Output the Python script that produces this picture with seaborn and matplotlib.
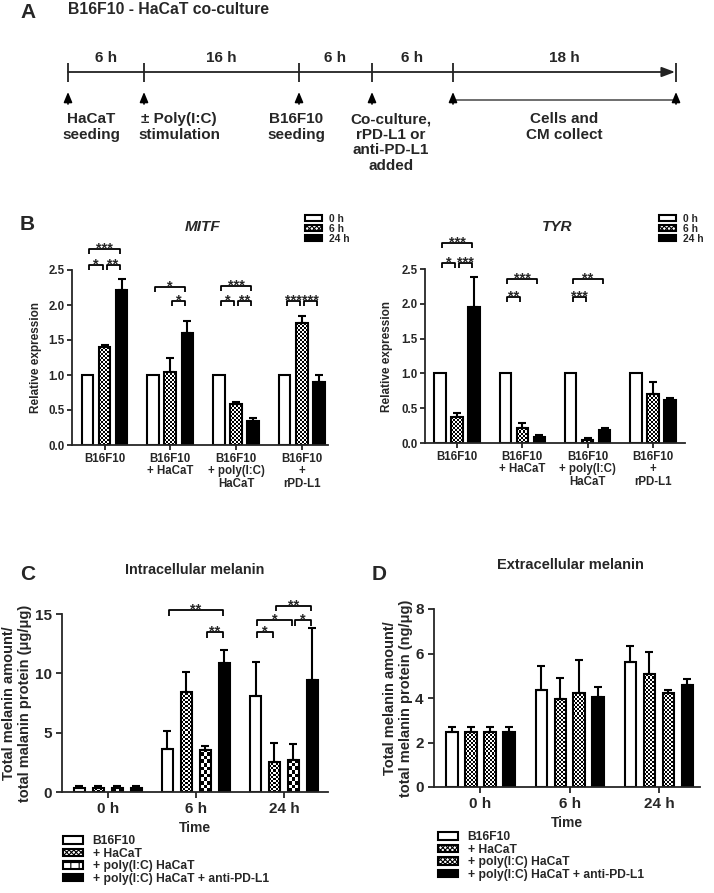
import numpy as np
import pandas as pd
import matplotlib
matplotlib.use("Agg")
import matplotlib.pyplot as plt
import matplotlib.patches as mpatches
import seaborn as sns

# ---- data ----
b_groups = ["B16F10", "B16F10\n+ HaCaT", "B16F10\n+ poly(I:C)\nHaCaT", "B16F10\n+\nrPD-L1"]
b_times = ["0 h", "6 h", "24 h"]

mitf_0h = [1.0, 1.0, 1.0, 1.0]
mitf_6h = [1.40, 1.05, 0.58, 1.75]
mitf_24h = [2.21, 1.60, 0.34, 0.90]
mitf_6h_err = [0.03, 0.20, 0.04, 0.10]
mitf_24h_err = [0.16, 0.165, 0.04, 0.10]

tyr_0h = [1.0, 1.0, 1.0, 1.0]
tyr_6h = [0.37, 0.22, 0.04, 0.70]
tyr_24h = [1.96, 0.09, 0.19, 0.62]
tyr_6h_err = [0.06, 0.07, 0.025, 0.18]
tyr_24h_err = [0.42, 0.02, 0.02, 0.02]

# (group, bar i, bar j, height, label)
mitf_sig = [(0, 0, 2, 2.80, "***"), (0, 0, 1, 2.57, "*"), (0, 1, 2, 2.57, "**"),
            (1, 0, 2, 2.26, "*"), (1, 1, 2, 2.06, "*"),
            (2, 0, 2, 2.27, "***"), (2, 0, 1, 2.06, "*"), (2, 1, 2, 2.06, "**"),
            (3, 0, 1, 2.06, "***"), (3, 1, 2, 2.06, "***")]
tyr_sig = [(0, 0, 2, 2.87, "***"), (0, 0, 1, 2.59, "*"), (0, 1, 2, 2.59, "***"),
           (1, 0, 2, 2.36, "***"), (1, 0, 1, 2.10, "**"),
           (2, 0, 2, 2.36, "**"), (2, 0, 1, 2.10, "***")]

times = ["0 h", "6 h", "24 h"]
treatments = ["B16F10", "+ HaCaT", "+ poly(I:C) HaCaT", "+ poly(I:C) HaCaT + anti-PD-L1"]

c_b16 = [0.3, 3.60, 8.07]
c_hacat = [0.3, 8.44, 2.55]
c_poly = [0.3, 3.51, 2.72]
c_anti = [0.3, 10.90, 9.43]
c_b16_err = [0.2, 1.58, 2.89]
c_hacat_err = [0.2, 1.70, 1.55]
c_poly_err = [0.2, 0.39, 1.30]
c_anti_err = [0.2, 1.08, 4.37]
c_sig = [(1, 0, 3, 15.35, "**"), (1, 2, 3, 13.46, "**"),
         (2, 0, 1, 13.46, "*"), (2, 0, 2, 14.50, "*"), (2, 2, 3, 14.50, "*"),
         (2, 1, 3, 15.70, "**")]

d_b16 = [2.48, 4.36, 5.64]
d_hacat = [2.48, 3.94, 5.10]
d_poly = [2.48, 4.24, 4.21]
d_anti = [2.48, 4.03, 4.57]
d_b16_err = [0.23, 1.08, 0.71]
d_hacat_err = [0.23, 0.95, 0.97]
d_poly_err = [0.23, 1.47, 0.15]
d_anti_err = [0.23, 0.45, 0.27]

timeline_steps = ["6 h", "16 h", "6 h", "6 h", "18 h"]
timeline_events = ["HaCaT\nseeding", "± Poly(I:C)\nstimulation", "B16F10\nseeding",
                   "Co-culture,\nrPD-L1 or\nanti-PD-L1\nadded", "Cells and\nCM collect"]

# ---- style ----
sns.set_style("ticks")
plt.rcParams["font.family"] = ["Liberation Sans", "DejaVu Sans"]
plt.rcParams["font.weight"] = "bold"
plt.rcParams["axes.labelweight"] = "bold"
plt.rcParams["hatch.linewidth"] = 0.8
plt.rcParams["axes.linewidth"] = 1.3

W, H = 714, 893
fig = plt.figure(figsize=(W / 100, H / 100), dpi=100)


def px_axes(left, top, right, bottom):
    return fig.add_axes([left / W, 1 - bottom / H, (right - left) / W, (bottom - top) / H])


def bar_panel(ax, cats, levels, values, errors, colors, width, gap):
    rows = []
    for lev, vals in zip(levels, values):
        for c, v in zip(cats, vals):
            rows.append({"group": c, "series": lev, "value": v})
    df = pd.DataFrame(rows)
    sns.barplot(data=df, x="group", y="value", hue="series", order=cats, hue_order=levels,
                palette=colors, saturation=1, edgecolor="black", linewidth=1.5,
                width=width, gap=gap, errorbar=None, legend=False, ax=ax)
    bars = list(ax.containers)
    for cont, errs in zip(bars, errors):
        xs = [b.get_x() + b.get_width() / 2 for b in cont]
        ys = [b.get_height() for b in cont]
        if any(e > 0 for e in errs):
            ax.errorbar(xs, ys, yerr=[np.zeros(len(errs)), errs], fmt="none", ecolor="black",
                        elinewidth=1.5, capsize=3, capthick=1.5, zorder=3)
    sns.despine(ax=ax)
    ax.set_xlabel("")
    ax.set_ylabel("")
    return bars


def checker_fill(ax, bars, cell_px):
    # GraphPad style checkerboard fill, clipped to each bar
    xl, yl = ax.get_xlim(), ax.get_ylim()
    p = ax.transData.transform([[0, 0], [1, 1]])
    sx, sy = p[1] - p[0]
    for b in bars:
        b.set_facecolor("none")
        w, h0 = b.get_width(), b.get_height()
        ncol = max(1, int(round(w * sx / cell_px)))
        ch = cell_px / sy
        nrow = int(np.ceil(h0 / ch)) + 1
        board = np.add.outer(np.arange(nrow), np.arange(ncol)) % 2
        im = ax.imshow(board, extent=(b.get_x(), b.get_x() + w, 0, nrow * ch), origin="lower",
                       cmap="gray", vmin=0, vmax=1, interpolation="nearest", aspect="auto",
                       zorder=0.9)
        im.set_clip_path(b)
    ax.set_xlim(*xl)
    ax.set_ylim(*yl)


def add_sig(ax, bars, specs, drop, fs, shrink):
    centers = [[b.get_x() + b.get_width() / 2 for b in cont] for cont in bars]
    for g, i, j, y, lab in specs:
        x1 = centers[i][g] + shrink
        x2 = centers[j][g] - shrink
        ax.plot([x1, x1, x2, x2], [y - drop, y, y, y - drop], color="black", lw=1.3,
                clip_on=False, solid_capstyle="butt")
        ax.annotate(lab, ((x1 + x2) / 2, y), xytext=(0, -2.5), textcoords="offset points",
                    ha="center", va="baseline", fontsize=fs, fontweight="bold",
                    annotation_clip=False)


fine = dict(facecolor="white", edgecolor="black", lw=1.5, hatch="xxxxxxx")

# ---- A: timeline ----
ax_a = fig.add_axes([0, 1 - 205 / H, 1, 205 / H])
ax_a.set_xlim(0, W)
ax_a.set_ylim(205, 0)
ax_a.axis("off")
tl_x = [68, 144, 299, 372, 453, 676]
ax_a.annotate("", xy=(675, 72), xytext=(68, 72),
              arrowprops=dict(arrowstyle="-|>,head_length=0.8,head_width=0.3", color="#222222",
                              lw=1.3, shrinkA=0, shrinkB=0))
ax_a.vlines(tl_x, 63, 82, color="#222222", lw=1.3)
for x in tl_x:
    ax_a.annotate("", xy=(x, 92), xytext=(x, 104),
                  arrowprops=dict(arrowstyle="-|>,head_length=0.6,head_width=0.25", color="black",
                                  lw=1.2, shrinkA=0, shrinkB=0))
ax_a.plot([453, 676], [100, 100], color="#555555", lw=1.2)
for k, lab in enumerate(timeline_steps):
    ax_a.text((tl_x[k] + tl_x[k + 1]) / 2, 58, lab, ha="center", va="center", fontsize=11)
ev_x = [62, 138, 296, 391, 564]
ev_ha = ["left", "left", "center", "center", "center"]
for lab, x, ha in zip(timeline_events, ev_x, ev_ha):
    ax_a.text(x, 112, lab, ha=ha, va="top", fontsize=11, linespacing=1.15, multialignment="center")
ax_a.text(68, 10, "B16F10 - HaCaT co-culture", ha="left", va="center", fontsize=11.3)
ax_a.text(20, 13, "A", ha="left", va="center", fontsize=15)

# ---- B: qPCR ----
b_colors = ["white", "white", "black"]
for left, top, right, bottom, title, tx, vals, errs, sig, xl, lab_x, leg_x in [
        (72, 270, 328, 445, "MITF", 203, [mitf_0h, mitf_6h, mitf_24h],
         [[0] * 4, mitf_6h_err, mitf_24h_err], mitf_sig, (-0.495, 3.40), -0.117, 305),
        (425, 269, 685, 443, "TYR", 557, [tyr_0h, tyr_6h, tyr_24h],
         [[0] * 4, tyr_6h_err, tyr_24h_err], tyr_sig, (-0.49, 3.49), -0.123, 659)]:
    ax = px_axes(left, top, right, bottom)
    bars = bar_panel(ax, b_groups, b_times, vals, errs, b_colors, 0.78, 0.32)
    ax.set_xlim(*xl)
    ax.set_ylim(0, 2.5)
    checker_fill(ax, bars[1], 2.0)
    ax.set_yticks(np.arange(0, 2.51, 0.5))
    ax.set_yticklabels([f"{v:.1f}" for v in np.arange(0, 2.51, 0.5)])
    ax.tick_params(axis="both", width=1.3, length=3.5, labelsize=8.3, pad=2)
    plt.setp(ax.get_xticklabels(), linespacing=1.05)
    ax.set_ylabel("Relative expression", fontsize=8.5)
    ax.yaxis.set_label_coords(lab_x, 0.5)
    add_sig(ax, bars, sig, 0.07, 10.5, 0.03)
    fig.text(tx / W, 1 - 227 / H, title, ha="center", va="center", fontsize=11, style="italic")
    ax.legend([bars[0], mpatches.Patch(**fine), bars[2]], b_times, loc="upper left",
              bbox_to_anchor=(leg_x / W, 1 - 214 / H),
              bbox_transform=fig.transFigure, frameon=False, fontsize=7.4, borderpad=0,
              borderaxespad=0, handlelength=1.7, handleheight=0.55, labelspacing=0.0,
              handletextpad=0.6)
fig.text(20 / W, 1 - 225 / H, "B", ha="left", va="center", fontsize=15)

# ---- C: intracellular melanin ----
ax_c = px_axes(62, 614, 328, 792)
c_bars = bar_panel(ax_c, times, treatments, [c_b16, c_hacat, c_poly, c_anti],
                   [c_b16_err, c_hacat_err, c_poly_err, c_anti_err],
                   ["white", "white", "white", "black"], 0.86, 0.44)
ax_c.set_xlim(-0.52, 2.5)
ax_c.set_ylim(0, 15)
checker_fill(ax_c, c_bars[1], 2.0)
checker_fill(ax_c, c_bars[2], 3.6)
ax_c.set_yticks([0, 5, 10, 15])
ax_c.tick_params(axis="both", width=1.3, length=4, labelsize=11, pad=3.5)
ax_c.set_xlabel("Time", fontsize=10, labelpad=3.5)
ax_c.set_ylabel("Total melanin amount/\ntotal malanin protein (μg/μg)", fontsize=10.5)
ax_c.yaxis.set_label_coords(-0.113, 0.5)
add_sig(ax_c, c_bars, c_sig, 0.48, 10.5, 0.02)
coarse = mpatches.Patch(facecolor="white", edgecolor="black", hatch="++", lw=1.5)
ax_c.legend([c_bars[0], mpatches.Patch(**fine), coarse, c_bars[3]], treatments, loc="upper left",
            bbox_to_anchor=(63 / W, 1 - 835 / H), bbox_transform=fig.transFigure, frameon=False,
            fontsize=8.7, borderpad=0, borderaxespad=0, handlelength=1.65, handleheight=0.6,
            labelspacing=0.05, handletextpad=0.8)
fig.text(195 / W, 1 - 570 / H, "Intracellular melanin", ha="center", va="center", fontsize=10.3)
fig.text(20 / W, 1 - 575 / H, "C", ha="left", va="center", fontsize=15)

# ---- D: extracellular melanin ----
ax_d = px_axes(434, 609, 700, 787)
d_bars = bar_panel(ax_d, times, treatments, [d_b16, d_hacat, d_poly, d_anti],
                   [d_b16_err, d_hacat_err, d_poly_err, d_anti_err],
                   ["white", "white", "white", "black"], 0.85, 0.40)
ax_d.set_xlim(-0.52, 2.46)
ax_d.set_ylim(0, 8)
checker_fill(ax_d, d_bars[1], 2.0)
checker_fill(ax_d, d_bars[2], 2.0)
ax_d.set_yticks([0, 2, 4, 6, 8])
ax_d.tick_params(axis="both", width=1.3, length=4, labelsize=11, pad=3.5)
ax_d.set_xlabel("Time", fontsize=10, labelpad=3.5)
ax_d.set_ylabel("Total melanin amount/\ntotal melanin protein (ng/μg)", fontsize=10.5)
ax_d.yaxis.set_label_coords(-0.08, 0.5)
ax_d.legend([d_bars[0], mpatches.Patch(**fine), mpatches.Patch(**fine), d_bars[3]], treatments,
            loc="upper left", bbox_to_anchor=(438 / W, 1 - 831 / H),
            bbox_transform=fig.transFigure, frameon=False,
            fontsize=8.7, borderpad=0, borderaxespad=0, handlelength=1.65, handleheight=0.6,
            labelspacing=0.05, handletextpad=0.8)
fig.text(570 / W, 1 - 565 / H, "Extracellular melanin", ha="center", va="center", fontsize=10.5)
fig.text(372 / W, 1 - 575 / H, "D", ha="left", va="center", fontsize=15)

fig.savefig("out.png", dpi=100)
